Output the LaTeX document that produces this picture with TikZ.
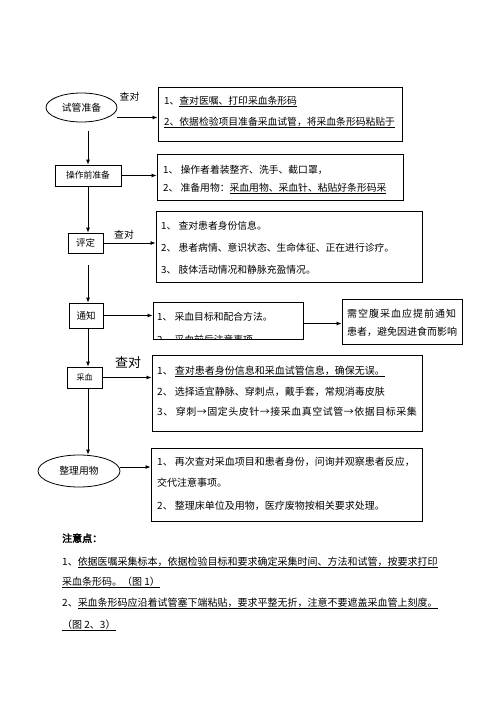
\documentclass[tikz,border=0pt]{standalone}
\usepackage{fontspec}
\newfontfamily\cjk{Noto Sans CJK SC}[BoldFont={Noto Sans CJK SC},BoldFeatures={FakeBold=3}]
\usetikzlibrary{shapes.geometric,arrows.meta}

\tikzset{
  flowbox/.style={draw, line width=0.8pt, inner sep=0pt, font=\cjk\fontsize{9.5}{10}\selectfont},
  flowoval/.style={draw, ellipse, line width=0.8pt, inner sep=0pt, font=\cjk\fontsize{9.8}{10}\selectfont},
  infobox/.style={draw, line width=0.9pt, inner sep=0pt},
  itemtxt/.style={anchor=west, inner sep=0pt, text height=0.8em, text depth=0.2em, font=\cjk\fontsize{9.8}{10}\selectfont},
  checklbl/.style={inner sep=0pt, font=\cjk\fontsize{9.8}{10}\selectfont},
  arr/.style={-{Latex[length=5pt,width=4pt]}, line width=0.8pt}
}

\begin{document}
\begin{tikzpicture}[x=1pt, y=-1pt]
    \useasboundingbox (0,0) rectangle (496,702);
    \coordinate (spine) at (88,0);

    % steps on the left
    \node[flowoval, minimum width=71, minimum height=29] (tube) at (81.5,107.5) {试管准备};
    \node[flowbox, minimum width=66, minimum height=21, font=\cjk\fontsize{8.8}{9}\selectfont] (prep) at (88,175.5) {操作前准备};
    \node[flowbox, minimum width=35, minimum height=20] (eval) at (85.5,243) {评定};
    \node[flowbox, minimum width=34, minimum height=25] (notify) at (86,315.5) {通知};
    \node[flowbox, minimum width=35, minimum height=21, font=\cjk\fontsize{8}{8}\selectfont] (sample) at (84.5,377.5) {采血};
    \node[flowoval, minimum width=82, minimum height=32] (tidy) at (79,471) {整理用物};

    % boxes on the right
    \node[infobox, minimum width=244, minimum height=54] (chkbox) at (280,114) {};
    \node[infobox, minimum width=246, minimum height=46] (prepbox) at (280,177) {};
    \node[infobox, minimum width=266, minimum height=71] (evalbox) at (289,246.5) {};
    \node[infobox, minimum width=150, minimum height=37] (notebox) at (228,320.5) {};
    \node[infobox, minimum width=120, minimum height=45] (fastbox) at (402,321.5) {};
    \node[infobox, minimum width=270, minimum height=76] (drawbox) at (287,393) {};
    \node[infobox, minimum width=271, minimum height=73] (tidybox) at (286.5,484.5) {};

    % labels on the arrows
    \node[checklbl] (chkA) at (129.5,97) {查对};
    \node[checklbl] (chkB) at (124,235) {查对};
    \node[checklbl, font=\cjk\fontsize{13}{13}\selectfont] (chkC) at (128,363) {查对};

    % main line
    \draw[arr, shorten <=9pt] (tube.south -| spine) -- (prep.north -| spine);
    \draw[arr] (prep.south -| spine) -- (eval.north -| spine);
    \draw[arr, shorten <=12pt] (eval.south -| spine) -- (notify.north -| spine);
    \draw[arr] (notify.south -| spine) -- (sample.north -| spine);
    \draw[arr] (sample.south -| spine) -- (spine |- tidy.north);

    % arrows to the boxes
    \draw[arr] ([yshift=-10pt]tube.east) -- ([yshift=-10pt]tube.east -| chkbox.west);
    \draw[arr] (prep.east) -- (prep.east -| prepbox.west);
    \draw[arr] (eval.east) -- (eval.east -| evalbox.west);
    \draw[arr] (notify.east) -- (notify.east -| notebox.west);
    \draw[arr] ([yshift=-3pt]notebox.east) -- ([yshift=-3pt]notebox.east -| fastbox.west);
    \draw[arr] (sample.east) -- (sample.east -| drawbox.west);
    \draw[arr] ([yshift=4pt]tidy.east) -- ([yshift=4pt]tidy.east -| tidybox.west);

    % texts in the boxes
    \node[itemtxt] (chk1) at (164,101) {1、\underline{查对医嘱、打印采血条形码}};
    \node[itemtxt] (chk2) at (164,122) {\underline{2、依据检验项目准备采血试管，将采血条形码粘贴于}};

    \node[itemtxt] (prep1) at (163,170) {1、 操作者着装整齐、洗手、截口罩，};
    \node[itemtxt] (prep2) at (163,188) {2、 准备用物：\underline{采血用物、采血针、粘贴好条形码采}};

    \node[itemtxt] (eval1) at (161,226) {1、 查对患者身份信息。};
    \node[itemtxt] (eval2) at (161,248) {2、 患者病情、意识状态、生命体征、正在进行诊疗。};
    \node[itemtxt] (eval3) at (161,270) {3、 肢体活动情况和静脉充盈情况。};

    \node[itemtxt] (note1) at (157,317) {1、 采血目标和配合方法。};
    \begin{scope}
        \clip (notebox.north west) rectangle (notebox.south east);
        \node[itemtxt] (note2) at (157,340) {2、 采血前后注意事项};
    \end{scope}

    \node[itemtxt, font=\cjk\fontsize{10}{10}\selectfont\addfontfeature{LetterSpace=10}] (fast1) at (347,314) {需空腹采血应提前通知};
    \node[itemtxt, font=\cjk\fontsize{10}{10}\selectfont] (fast2) at (347,332) {患者，避免因进食而影响};

    \node[itemtxt, font=\cjk\fontsize{10}{10}\selectfont] (draw1) at (157,371) {1、 \underline{查对患者身份信息和采血试管信息，确保无误。}};
    \node[itemtxt, font=\cjk\fontsize{10}{10}\selectfont] (draw2) at (157,392) {2、 选择适宜静脉、穿刺点，戴手套，常规消毒皮肤};
    \node[itemtxt, font=\cjk\fontsize{10}{10}\selectfont\addfontfeature{LetterSpace=5}] (draw3) at (157,412) {3、 穿刺→固定头皮针→接采血真空试管→依据目标采集};

    \node[itemtxt, font=\cjk\fontsize{10}{10}\selectfont] (tidy1) at (157,462) {1、 再次查对采血项目和患者身份，问询并观察患者反应，};
    \node[itemtxt, font=\cjk\fontsize{10}{10}\selectfont] (tidy2) at (157,483) {交代注意事项。};
    \node[itemtxt, font=\cjk\fontsize{10}{10}\selectfont] (tidy3) at (157,506) {2、 整理床单位及用物，医疗废物按相关要求处理。};

    % notes below
    \node[itemtxt, font=\cjk\bfseries\fontsize{10}{10}\selectfont] (hint) at (62,539) {注意点：};
    \node[itemtxt, font=\cjk\fontsize{10}{10}\selectfont] (hint1) at (62,562) {1、\underline{依据医嘱采集标本，依据检验目标和要求确定采集时间、方法和试管，按要求打印}};
    \node[itemtxt, font=\cjk\fontsize{10}{10}\selectfont] (hint2) at (62,582) {\underline{采血条形码。（图 1）}};
    \node[itemtxt, font=\cjk\fontsize{10}{10}\selectfont] (hint3) at (62,603) {2、\underline{采血条形码应沿着试管塞下端粘贴，要求平整无折，注意不要遮盖采血管上刻度。}};
    \node[itemtxt, font=\cjk\fontsize{10}{10}\selectfont] (hint4) at (62,625) {\underline{（图 2、3）}};
\end{tikzpicture}
\end{document}
